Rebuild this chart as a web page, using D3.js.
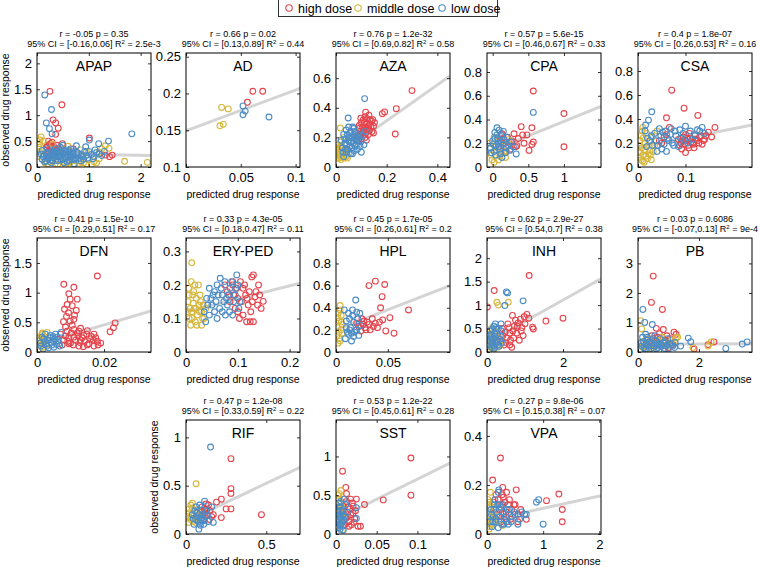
<!DOCTYPE html>
<html><head><meta charset="utf-8">
<script src="https://cdn.jsdelivr.net/npm/d3@7"></script>
<style>body{margin:0;background:#fff}text{font-family:"Liberation Sans",Arial,Helvetica,sans-serif;fill:#000}</style>
</head><body><svg id="c" width="759" height="567"></svg>
<script>
const drugs = ["APAP","AD","AZA","CPA","CSA","DFN","ERY-PED","HPL","INH","PB","RIF","SST","VPA"];
const seriesNames = ["high dose","middle dose","low dose"];
const statLine1 = ["r = -0.05 p = 0.35","r = 0.66 p = 0.02","r = 0.76 p = 1.2e-32","r = 0.57 p = 5.6e-15","r = 0.4 p = 1.8e-07","r = 0.41 p = 1.5e-10","r = 0.33 p = 4.3e-05","r = 0.45 p = 1.7e-05","r = 0.62 p = 2.9e-27","r = 0.03 p = 0.6086","r = 0.47 p = 1.2e-08","r = 0.53 p = 1.2e-22","r = 0.27 p = 9.8e-06"];
const statCI = ["[-0.16,0.06]","[0.13,0.89]","[0.69,0.82]","[0.46,0.67]","[0.26,0.53]","[0.29,0.51]","[0.18,0.47]","[0.26,0.61]","[0.54,0.7]","[-0.07,0.13]","[0.33,0.59]","[0.45,0.61]","[0.15,0.38]"];
const statR2 = ["2.5e-3","0.44","0.58","0.33","0.16","0.17","0.11","0.2","0.38","9e-4","0.22","0.28","0.07"];
const xDomains = [[0,2.2],[0,0.104],[0,0.45],[-0.08,1.52],[0,0.24],[0,0.034],[0,0.22],[0,0.11],[0,3.0],[0,3.74],[0,0.71],[0,0.14],[0,2.03]];
const yDomains = [[0,2.2],[0.1,0.255],[0,0.77],[0,0.96],[0,0.95],[0,1.92],[0,0.34],[0,1.03],[0,2.43],[0,3.86],[0,1.18],[0,1.47],[0,0.465]];
const xTicks = [[0,1,2],[0,0.05,0.1],[0,0.2,0.4],[0,0.5,1],[0,0.1],[0,0.02],[0,0.1,0.2],[0,0.05],[0,2],[0,2],[0,0.5],[0,0.05,0.1],[0,1,2]];
const yTicks = [[0,0.5,1,1.5,2],[0.1,0.15,0.2,0.25],[0,0.2,0.4,0.6],[0,0.2,0.4,0.6,0.8],[0,0.2,0.4,0.6,0.8],[0,0.5,1,1.5],[0,0.1,0.2,0.3],[0,0.2,0.4,0.6,0.8],[0,0.5,1,1.5,2],[0,1,2,3],[0,0.5,1],[0,0.5,1],[0,0.2,0.4]];
// regression line values at the left and right ends of the x-domain
const fitLines = [[0.26,0.22],[0.149,0.207],[0.07,0.615],[0.12,0.51],[0.16,0.35],[0.12,0.69],[0.12,0.205],[0.2,0.6],[0.2,1.56],[0.26,0.28],[0.13,0.69],[0.19,0.915],[0.055,0.156]];

const APAP_high = [[0.25,1.46],[0.48,1.2],[0.31,0.91],[0.36,0.85],[0.41,0.75],[0.36,0.63],[1.01,0.56],[0.49,0.45],[1.45,0.23],[1.32,0.23],[0.2,0.42],[0.24,0.36],[0.28,0.33],[0.32,0.4],[0.22,0.3],[0.3,0.26],[0.35,0.3],[0.26,0.45],[0.4,0.35],[0.18,0.38],[0.45,0.28],[0.6,0.3],[0.7,0.35],[1.4,0.2],[0.22,0.5],[0.27,0.4],[0.33,0.35],[0.38,0.42],[0.42,0.3],[0.23,0.27],[0.29,0.48],[0.34,0.25],[0.5,0.35],[0.55,0.28]];
const APAP_mid = [[1.39,0.36],[1.32,0.41],[1.69,0.11],[2.13,0.09],[0.08,0.58],[0.05,0.45],[0.81,0.07],[0.05,0.3],[0.1,0.15],[0.15,0.08],[0.25,0.1],[0.35,0.06],[0.45,0.12],[0.55,0.05],[0.65,0.1],[0.75,0.12],[0.9,0.08],[1.0,0.14],[1.1,0.1],[1.2,0.16],[0.4,0.22],[0.6,0.4],[0.95,0.3],[1.25,0.35],[0.3,0.44],[0.12,0.5],[0.02,0.2],[0.7,0.18],[1.05,0.05],[0.2,0.06],[0.3,0.13],[0.4,0.05],[0.5,0.09],[0.6,0.07],[0.7,0.05],[0.85,0.1],[0.95,0.06],[1.15,0.08],[0.04,0.38],[0.06,0.52],[0.03,0.25],[0.5,0.34],[0.85,0.33],[1.2,0.28]];
const APAP_low = [[0.15,1.39],[0.28,1.11],[0.18,0.85],[0.24,0.74],[0.29,0.64],[1.83,0.64],[1.01,0.52],[1.19,0.45],[1.38,0.5],[0.76,0.41],[0.94,0.39],[0.5,0.42],[0.12,0.2],[0.18,0.28],[0.22,0.15],[0.25,0.22],[0.3,0.3],[0.33,0.18],[0.38,0.25],[0.4,0.12],[0.44,0.2],[0.48,0.3],[0.5,0.16],[0.55,0.24],[0.58,0.1],[0.6,0.2],[0.64,0.28],[0.68,0.14],[0.7,0.22],[0.75,0.18],[0.8,0.26],[0.85,0.12],[0.88,0.2],[0.92,0.3],[0.98,0.17],[1.05,0.24],[1.1,0.2],[1.15,0.28],[0.2,0.36],[0.35,0.35],[0.45,0.38],[0.65,0.35],[0.52,0.08],[0.28,0.08],[0.15,0.1],[0.72,0.06],[0.62,0.32],[0.42,0.27],[0.26,0.25],[0.36,0.21],[0.54,0.19],[0.78,0.22],[1.25,0.22],[1.3,0.3],[0.08,0.25],[0.1,0.32],[0.1,0.15],[0.14,0.22],[0.17,0.12],[0.2,0.25],[0.23,0.18],[0.27,0.14],[0.31,0.22],[0.34,0.28],[0.37,0.15],[0.41,0.2],[0.43,0.32],[0.47,0.14],[0.51,0.25],[0.53,0.3],[0.57,0.17],[0.61,0.13],[0.63,0.23],[0.66,0.19],[0.69,0.29],[0.73,0.15],[0.77,0.28],[0.82,0.17],[0.86,0.24],[0.9,0.15],[0.95,0.22],[1.0,0.3],[1.08,0.16],[1.12,0.33],[1.2,0.25],[0.3,0.12],[0.46,0.23],[0.56,0.33],[0.67,0.25],[0.2,0.2],[0.39,0.31]];

const AD_high = [[0.056,0.188],[0.061,0.203],[0.07,0.203]];
const AD_mid = [[0.0325,0.181],[0.0385,0.179],[0.031,0.156],[0.034,0.158]];
const AD_low = [[0.052,0.183],[0.052,0.171],[0.054,0.176],[0.0757,0.168]];

const AZA_high = [[0.3,0.516],[0.238,0.394],[0.234,0.223],[0.192,0.372],[0.183,0.36],[0.117,0.37],[0.148,0.275],[0.148,0.23],[0.124,0.325],[0.135,0.32],[0.1,0.3],[0.105,0.27],[0.11,0.25],[0.12,0.29],[0.13,0.28],[0.095,0.22],[0.1,0.24],[0.115,0.2],[0.14,0.31],[0.125,0.26],[0.09,0.26],[0.108,0.32],[0.118,0.23],[0.132,0.25],[0.12,0.18],[0.1,0.19],[0.085,0.21],[0.145,0.32],[0.092,0.28],[0.098,0.33],[0.105,0.23],[0.112,0.3],[0.118,0.27],[0.128,0.22],[0.138,0.27],[0.142,0.24],[0.088,0.18],[0.13,0.35],[0.152,0.3],[0.115,0.34]];
const AZA_mid = [[0.017,0.264],[0.005,0.12],[0.01,0.08],[0.015,0.1],[0.02,0.14],[0.008,0.15],[0.025,0.09],[0.03,0.11],[0.012,0.06],[0.035,0.08],[0.004,0.09],[0.02,0.05],[0.028,0.13],[0.04,0.07],[0.018,0.17],[0.045,0.06],[0.01,0.11],[0.03,0.2],[0.006,0.06],[0.014,0.13],[0.022,0.08],[0.032,0.06],[0.008,0.1],[0.016,0.07],[0.026,0.11],[0.002,0.13],[0.038,0.1],[0.05,0.09]];
const AZA_low = [[0.113,0.462],[0.048,0.331],[0.03,0.22],[0.04,0.25],[0.05,0.2],[0.06,0.17],[0.07,0.22],[0.055,0.14],[0.045,0.12],[0.065,0.09],[0.035,0.16],[0.025,0.13],[0.075,0.19],[0.08,0.15],[0.09,0.18],[0.06,0.24],[0.05,0.27],[0.085,0.12],[0.04,0.1],[0.07,0.26],[0.095,0.14],[0.11,0.15],[0.115,0.24],[0.02,0.18],[0.1,0.1],[0.065,0.2],[0.03,0.07],[0.055,0.23],[0.075,0.24],[0.035,0.19],[0.045,0.22],[0.052,0.17],[0.058,0.2],[0.062,0.13],[0.068,0.16],[0.072,0.11],[0.078,0.21],[0.082,0.18],[0.088,0.22],[0.092,0.2],[0.098,0.17],[0.042,0.15],[0.028,0.1],[0.038,0.12],[0.066,0.27],[0.058,0.09],[0.105,0.21],[0.048,0.18],[0.075,0.14]];

const CPA_high = [[0.57,0.64],[1.0,0.45],[1.0,0.17],[0.55,0.33],[0.4,0.34],[0.48,0.27],[0.42,0.27],[0.57,0.21],[0.55,0.19],[0.51,0.14],[0.3,0.28],[0.32,0.17],[0.34,0.18],[0.23,0.21],[0.15,0.24],[0.17,0.2],[0.08,0.17],[0.21,0.25],[0.11,0.22],[0.25,0.15],[0.13,0.28],[0.27,0.22],[0.19,0.13],[0.36,0.24],[0.44,0.2]];
const CPA_mid = [[0.02,0.04],[-0.02,0.1],[0.06,0.14],[0.1,0.09],[0.14,0.22],[-0.04,0.2],[0.22,0.23],[0.08,0.06],[0.16,0.13],[0.02,0.25],[0.04,0.17],[0.12,0.12],[-0.01,0.06],[0.18,0.08]];
const CPA_low = [[0.57,0.46],[0.06,0.33],[0.09,0.31],[0.03,0.29],[0.12,0.27],[0.2,0.25],[0.33,0.11],[0.0,0.22],[0.05,0.18],[0.1,0.15],[0.14,0.19],[0.18,0.12],[0.02,0.13],[0.07,0.24],[0.15,0.3],[0.22,0.18],[-0.03,0.16],[0.12,0.21],[0.26,0.21],[0.04,0.1],[0.06,0.27],[0.08,0.2],[0.11,0.11],[0.16,0.23],[0.01,0.19],[0.24,0.14],[0.13,0.08],[0.09,0.17],[0.19,0.16],[0.03,0.24],[0.29,0.17],[-0.02,0.12]];

const CSA_high = [[0.071,0.64],[0.097,0.49],[0.126,0.43],[0.06,0.41],[0.162,0.33],[0.155,0.25],[0.148,0.29],[0.06,0.27],[0.066,0.33],[0.09,0.2],[0.095,0.25],[0.1,0.22],[0.105,0.18],[0.11,0.24],[0.115,0.2],[0.12,0.27],[0.125,0.22],[0.13,0.25],[0.135,0.19],[0.14,0.23],[0.092,0.15],[0.1,0.12],[0.118,0.16],[0.045,0.22],[0.05,0.2],[0.055,0.25],[0.108,0.28],[0.085,0.23],[0.088,0.18],[0.093,0.22],[0.098,0.19],[0.103,0.24],[0.112,0.21],[0.117,0.19],[0.122,0.23],[0.128,0.2],[0.133,0.26],[0.138,0.22],[0.143,0.26],[0.1,0.27],[0.107,0.16]];
const CSA_mid = [[0.01,0.33],[0.002,0.08],[0.005,0.12],[0.008,0.16],[0.012,0.1],[0.015,0.2],[0.02,0.07],[0.025,0.14],[0.03,0.25],[0.004,0.22],[0.018,0.28],[0.035,0.18],[0.01,0.05],[0.022,0.11],[0.006,0.26],[0.04,0.3],[0.028,0.06],[0.003,0.18],[0.007,0.06],[0.011,0.24],[0.014,0.14],[0.017,0.09],[0.019,0.17],[0.023,0.21],[0.026,0.1],[0.009,0.3],[0.013,0.04],[0.032,0.13],[0.001,0.13]];
const CSA_low = [[0.029,0.46],[0.022,0.39],[0.015,0.3],[0.025,0.22],[0.035,0.28],[0.045,0.32],[0.05,0.15],[0.058,0.3],[0.065,0.22],[0.07,0.32],[0.075,0.18],[0.08,0.26],[0.088,0.31],[0.095,0.28],[0.1,0.34],[0.11,0.3],[0.12,0.26],[0.13,0.3],[0.14,0.28],[0.04,0.13],[0.06,0.13],[0.085,0.17],[0.03,0.18],[0.02,0.24],[0.105,0.2],[0.068,0.27],[0.048,0.26],[0.018,0.17],[0.028,0.26],[0.038,0.22],[0.042,0.18],[0.055,0.19],[0.062,0.24],[0.072,0.2],[0.078,0.3],[0.09,0.24],[0.098,0.22],[0.115,0.23],[0.125,0.31],[0.135,0.33],[0.016,0.35],[0.052,0.29]];

const DFN_high = [[0.018,1.28],[0.008,1.14],[0.011,1.09],[0.0095,0.98],[0.0099,0.89],[0.012,0.89],[0.009,0.8],[0.0105,0.78],[0.0082,0.72],[0.0094,0.66],[0.0117,0.7],[0.0079,0.51],[0.0233,0.49],[0.0218,0.34],[0.0228,0.41],[0.017,0.1],[0.007,0.3],[0.008,0.2],[0.009,0.35],[0.01,0.15],[0.011,0.25],[0.012,0.32],[0.013,0.2],[0.014,0.28],[0.015,0.12],[0.016,0.22],[0.017,0.3],[0.018,0.18],[0.019,0.15],[0.0085,0.42],[0.0105,0.45],[0.013,0.4],[0.015,0.36],[0.0125,0.1],[0.0095,0.24],[0.011,0.55],[0.0075,0.12],[0.0085,0.27],[0.0092,0.18],[0.0102,0.32],[0.0108,0.12],[0.0115,0.2],[0.0122,0.27],[0.0128,0.16],[0.0135,0.24],[0.0142,0.18],[0.0148,0.3],[0.0155,0.14],[0.0162,0.26],[0.0168,0.2],[0.0175,0.24],[0.0182,0.12],[0.0125,0.35],[0.0095,0.14],[0.011,0.38],[0.0138,0.09],[0.0088,0.6],[0.0112,0.62],[0.0099,0.52]];
const DFN_mid = [[0.0005,0.1],[0.001,0.2],[0.0015,0.3],[0.002,0.15],[0.0025,0.25],[0.003,0.33],[0.0008,0.05],[0.0018,0.08],[0.0028,0.12],[0.0012,0.27],[0.0003,0.18],[0.0007,0.24],[0.0014,0.13],[0.0022,0.22],[0.0004,0.03],[0.0016,0.32]];
const DFN_low = [[0.001,0.15],[0.002,0.22],[0.003,0.1],[0.004,0.28],[0.005,0.18],[0.006,0.25],[0.0072,0.33],[0.0035,0.07],[0.0045,0.12],[0.0055,0.3],[0.0065,0.14],[0.0025,0.3],[0.0015,0.25],[0.005,0.08],[0.0012,0.1],[0.0022,0.17],[0.0032,0.2],[0.0042,0.16],[0.0052,0.22],[0.0062,0.19],[0.0068,0.1],[0.0038,0.24],[0.0048,0.26],[0.0058,0.13],[0.0028,0.14],[0.0018,0.05]];

const ERY_high = [[0.127,0.224],[0.133,0.164],[0.149,0.151],[0.13,0.09],[0.117,0.09],[0.124,0.09],[0.13,0.23],[0.08,0.18],[0.09,0.2],[0.1,0.16],[0.11,0.19],[0.12,0.14],[0.095,0.13],[0.105,0.21],[0.115,0.17],[0.125,0.12],[0.14,0.2],[0.085,0.15],[0.1,0.12],[0.135,0.18],[0.11,0.11],[0.075,0.2],[0.145,0.13],[0.083,0.17],[0.092,0.17],[0.098,0.19],[0.107,0.15],[0.113,0.2],[0.118,0.16],[0.122,0.18],[0.128,0.15],[0.138,0.14],[0.142,0.17],[0.103,0.1],[0.09,0.21]];
const ERY_mid = [[0.011,0.266],[0.01,0.21],[0.005,0.19],[0.015,0.18],[0.02,0.16],[0.025,0.14],[0.03,0.12],[0.008,0.13],[0.012,0.1],[0.018,0.09],[0.022,0.11],[0.028,0.15],[0.035,0.1],[0.004,0.15],[0.016,0.13],[0.03,0.08],[0.038,0.13],[0.006,0.1],[0.024,0.2],[0.014,0.145],[0.006,0.17],[0.013,0.17],[0.019,0.13],[0.026,0.12],[0.032,0.1],[0.009,0.08],[0.021,0.08],[0.003,0.12],[0.017,0.2],[0.027,0.17],[0.033,0.14],[0.011,0.12]];
const ERY_low = [[0.098,0.23],[0.035,0.12],[0.04,0.16],[0.045,0.19],[0.05,0.14],[0.055,0.18],[0.06,0.2],[0.065,0.13],[0.07,0.17],[0.075,0.21],[0.08,0.14],[0.085,0.19],[0.09,0.11],[0.095,0.17],[0.1,0.2],[0.104,0.15],[0.045,0.11],[0.06,0.1],[0.07,0.12],[0.078,0.16],[0.088,0.21],[0.038,0.09],[0.052,0.17],[0.042,0.14],[0.048,0.16],[0.058,0.15],[0.062,0.17],[0.068,0.19],[0.073,0.15],[0.082,0.17],[0.092,0.15],[0.096,0.19],[0.055,0.12],[0.066,0.22],[0.084,0.12],[0.102,0.13],[0.076,0.11]];

const HPL_high = [[0.038,0.64],[0.0318,0.6],[0.047,0.61],[0.0445,0.5],[0.07,0.38],[0.043,0.4],[0.045,0.29],[0.052,0.31],[0.048,0.19],[0.056,0.17],[0.02,0.26],[0.025,0.3],[0.028,0.22],[0.03,0.27],[0.033,0.2],[0.035,0.3],[0.038,0.26],[0.024,0.19],[0.04,0.22],[0.027,0.28],[0.022,0.23],[0.026,0.25],[0.029,0.2],[0.032,0.25],[0.036,0.23],[0.042,0.27]];
const HPL_mid = [[0.004,0.42],[0.002,0.35],[0.003,0.28],[0.005,0.2],[0.001,0.15],[0.004,0.1],[0.006,0.25],[0.002,0.08],[0.005,0.33],[0.003,0.18],[0.001,0.22],[0.003,0.12],[0.005,0.27],[0.002,0.31],[0.006,0.17],[0.004,0.38]];
const HPL_low = [[0.019,0.47],[0.008,0.38],[0.012,0.35],[0.016,0.33],[0.02,0.36],[0.01,0.28],[0.014,0.22],[0.018,0.18],[0.022,0.15],[0.009,0.12],[0.015,0.1],[0.02,0.2],[0.012,0.16],[0.017,0.27],[0.024,0.24],[0.011,0.18],[0.013,0.2],[0.015,0.17],[0.017,0.14],[0.019,0.2],[0.021,0.3],[0.013,0.3],[0.016,0.38],[0.023,0.35],[0.01,0.22]];

const INH_high = [[1.11,1.63],[1.55,0.66],[2.0,0.72],[1.2,0.53],[1.22,0.49],[0.67,0.78],[0.19,1.31],[0.01,0.96],[0.75,0.68],[0.3,0.3],[0.4,0.5],[0.5,0.2],[0.6,0.4],[0.7,0.3],[0.8,0.55],[0.9,0.45],[1.0,0.6],[0.85,0.25],[0.55,0.6],[0.45,0.15],[0.65,0.1],[0.95,0.35],[0.35,0.22],[0.42,0.35],[0.48,0.42],[0.52,0.3],[0.58,0.52],[0.62,0.25],[0.68,0.45],[0.72,0.55],[0.78,0.4],[0.82,0.62],[0.88,0.7],[0.92,0.52],[0.98,0.75],[1.05,0.8],[1.1,0.72],[0.6,0.15]];
const INH_mid = [[0.56,1.06],[0.26,1.06],[0.3,1.0],[0.07,0.05],[0.1,0.2],[0.15,0.35],[0.2,0.1],[0.25,0.45],[0.35,0.15],[0.12,0.5],[0.3,0.3],[0.05,0.3],[0.04,0.12],[0.08,0.1],[0.13,0.25],[0.17,0.05],[0.22,0.22],[0.27,0.1],[0.02,0.38],[0.18,0.45]];
const INH_low = [[0.54,1.26],[0.95,1.09],[0.47,0.99],[0.51,1.28],[0.05,0.15],[0.1,0.3],[0.15,0.2],[0.2,0.4],[0.25,0.25],[0.3,0.5],[0.35,0.35],[0.4,0.2],[0.12,0.1],[0.18,0.55],[0.28,0.15],[0.22,0.6],[0.38,0.45],[0.08,0.45],[0.06,0.05],[0.08,0.22],[0.11,0.38],[0.13,0.15],[0.16,0.28],[0.19,0.08],[0.21,0.33],[0.24,0.18],[0.27,0.38],[0.29,0.22],[0.32,0.12],[0.34,0.27],[0.37,0.6],[0.02,0.25],[0.14,0.48],[0.23,0.52],[0.06,0.35],[0.18,0.12]];

const PB_high = [[0.5,2.57],[0.44,1.68],[0.8,1.44],[0.6,0.8],[0.83,0.76],[1.18,0.67],[1.25,0.6],[2.49,0.34],[1.84,0.1],[2.3,0.25],[0.3,0.4],[0.45,0.55],[0.55,0.3],[0.65,0.5],[0.75,0.2],[0.9,0.4],[1.0,0.15],[0.4,0.2],[0.7,0.62],[0.35,0.3],[0.5,0.45],[0.62,0.35],[0.72,0.25],[0.85,0.35],[0.95,0.55],[1.05,0.45],[1.15,0.25],[0.25,0.25]];
const PB_mid = [[0.09,1.06],[0.12,0.78],[1.8,0.15],[2.4,0.34],[2.3,0.2],[1.3,0.5],[0.2,0.3],[0.35,0.45],[0.5,0.15],[0.65,0.35],[0.8,0.5],[0.95,0.25],[0.3,0.1],[1.1,0.4],[0.15,0.15],[0.25,0.4],[0.42,0.25],[0.58,0.2],[0.72,0.4],[0.88,0.3],[1.0,0.2],[0.12,0.35],[1.2,0.35],[1.25,0.48]];
const PB_low = [[0.16,1.44],[0.22,1.0],[0.47,0.93],[1.65,0.47],[1.73,0.35],[2.88,0.12],[3.42,0.27],[3.58,0.34],[1.4,0.2],[0.1,0.3],[0.2,0.15],[0.3,0.4],[0.4,0.25],[0.5,0.45],[0.6,0.1],[0.7,0.3],[0.8,0.2],[0.9,0.35],[1.0,0.1],[1.1,0.25],[1.2,0.15],[0.25,0.6],[0.55,0.55],[0.35,0.05],[0.15,0.5],[0.12,0.2],[0.18,0.35],[0.24,0.1],[0.28,0.28],[0.33,0.2],[0.38,0.35],[0.43,0.12],[0.46,0.3],[0.52,0.2],[0.58,0.38],[0.62,0.25],[0.66,0.15],[0.72,0.45],[0.76,0.25],[0.84,0.3],[0.88,0.12],[0.94,0.22],[1.04,0.3],[1.14,0.2],[1.22,0.32],[0.08,0.08],[0.3,0.5],[0.68,0.05],[0.98,0.45]];

const RIF_high = [[0.28,0.78],[0.28,0.47],[0.28,0.42],[0.22,0.36],[0.19,0.33],[0.25,0.26],[0.28,0.26],[0.22,0.17],[0.47,0.2],[0.08,0.2],[0.1,0.28],[0.12,0.22],[0.14,0.3],[0.16,0.18],[0.11,0.15],[0.13,0.26],[0.09,0.24],[0.105,0.19],[0.115,0.25],[0.125,0.31],[0.135,0.2],[0.15,0.24],[0.17,0.2],[0.145,0.15]];
const RIF_mid = [[0.063,0.52],[0.01,0.18],[0.02,0.22],[0.03,0.15],[0.04,0.27],[0.05,0.2],[0.06,0.12],[0.07,0.25],[0.03,0.3],[0.08,0.16],[0.015,0.12],[0.025,0.17],[0.035,0.2],[0.045,0.13],[0.055,0.17],[0.065,0.22],[0.02,0.26],[0.04,0.32],[0.075,0.19]];
const RIF_low = [[0.153,0.9],[0.116,0.34],[0.16,0.28],[0.11,0.1],[0.08,0.05],[0.04,0.2],[0.06,0.15],[0.07,0.22],[0.09,0.12],[0.1,0.25],[0.12,0.18],[0.14,0.13],[0.05,0.1],[0.085,0.3],[0.17,0.12],[0.045,0.16],[0.055,0.24],[0.065,0.18],[0.075,0.13],[0.082,0.2],[0.095,0.16],[0.105,0.2],[0.115,0.14],[0.125,0.24],[0.135,0.19],[0.062,0.28],[0.09,0.09],[0.1,0.14]];

const SST_high = [[0.092,0.98],[0.092,0.5],[0.058,0.44],[0.008,0.81],[0.012,0.6],[0.035,0.38],[0.03,0.1],[0.005,0.3],[0.01,0.45],[0.012,0.2],[0.015,0.35],[0.018,0.25],[0.02,0.4],[0.022,0.15],[0.024,0.3],[0.016,0.1],[0.008,0.15],[0.025,0.45],[0.013,0.52],[0.006,0.2],[0.009,0.28],[0.011,0.12],[0.014,0.22],[0.017,0.32],[0.019,0.12],[0.021,0.27],[0.023,0.2],[0.013,0.42],[0.018,0.45],[0.021,0.36],[0.027,0.1],[0.01,0.35],[0.016,0.16]];
const SST_mid = [[0.004,0.52],[0.006,0.56],[0.002,0.1],[0.003,0.2],[0.004,0.3],[0.005,0.4],[0.006,0.15],[0.007,0.25],[0.008,0.05],[0.002,0.35],[0.009,0.45],[0.001,0.25],[0.003,0.45],[0.005,0.1],[0.007,0.35],[0.002,0.5],[0.008,0.2]];
const SST_low = [[0.01,0.45],[0.025,0.34],[0.025,0.2],[0.014,0.28],[0.002,0.08],[0.003,0.15],[0.004,0.25],[0.005,0.35],[0.006,0.12],[0.007,0.2],[0.008,0.3],[0.009,0.05],[0.003,0.4],[0.006,0.42],[0.01,0.18],[0.001,0.1],[0.002,0.2],[0.003,0.3],[0.004,0.12],[0.005,0.22],[0.006,0.3],[0.007,0.15],[0.008,0.1],[0.009,0.25],[0.004,0.35],[0.002,0.28],[0.011,0.22],[0.005,0.06],[0.003,0.18],[0.012,0.38]];

const VPA_high = [[0.24,0.31],[0.1,0.22],[0.52,0.18],[0.35,0.17],[0.27,0.16],[1.28,0.163],[1.06,0.136],[1.34,0.1],[1.34,0.05],[0.7,0.06],[0.55,0.05],[0.48,0.12],[0.15,0.1],[0.2,0.14],[0.3,0.08],[0.38,0.12],[0.42,0.06],[0.25,0.05],[0.6,0.1],[0.18,0.07],[0.32,0.13],[0.12,0.13],[0.16,0.16],[0.22,0.1],[0.26,0.12],[0.29,0.15],[0.34,0.09],[0.4,0.14],[0.44,0.1],[0.5,0.12],[0.55,0.08],[0.36,0.05],[0.28,0.19]];
const VPA_mid = [[0.06,0.17],[0.28,0.035],[0.02,0.05],[0.04,0.08],[0.06,0.11],[0.08,0.06],[0.1,0.09],[0.12,0.04],[0.03,0.12],[0.14,0.07],[0.05,0.03],[0.01,0.09],[0.03,0.07],[0.05,0.13],[0.07,0.04],[0.09,0.12],[0.11,0.08],[0.13,0.05],[0.02,0.14],[0.04,0.02]];
const VPA_low = [[0.21,0.18],[0.88,0.13],[0.92,0.14],[0.67,0.08],[1.0,0.04],[0.43,0.05],[0.2,0.025],[0.08,0.08],[0.12,0.1],[0.16,0.06],[0.22,0.12],[0.28,0.09],[0.34,0.07],[0.4,0.1],[0.5,0.08],[0.58,0.06],[0.3,0.04],[0.1,0.05],[0.25,0.11],[0.05,0.05],[0.07,0.1],[0.09,0.03],[0.11,0.07],[0.13,0.12],[0.15,0.05],[0.17,0.09],[0.19,0.12],[0.23,0.07],[0.26,0.04],[0.29,0.12],[0.31,0.06],[0.36,0.1],[0.38,0.04],[0.45,0.07],[0.48,0.09],[0.55,0.04],[0.62,0.09],[0.7,0.08],[0.14,0.14],[0.2,0.17]];

const highData = [APAP_high,AD_high,AZA_high,CPA_high,CSA_high,DFN_high,ERY_high,HPL_high,INH_high,PB_high,RIF_high,SST_high,VPA_high];
const midData = [APAP_mid,AD_mid,AZA_mid,CPA_mid,CSA_mid,DFN_mid,ERY_mid,HPL_mid,INH_mid,PB_mid,RIF_mid,SST_mid,VPA_mid];
const lowData = [APAP_low,AD_low,AZA_low,CPA_low,CSA_low,DFN_low,ERY_low,HPL_low,INH_low,PB_low,RIF_low,SST_low,VPA_low];

const colors = ["#e5444c","#d7b73a","#4b8cc6"];
const svg = d3.select("#c");
const colLeft = [37,186,336,487,638];
const rowTop = [53,238,420];
const S = 114;
const grid = [[0,0],[1,0],[2,0],[3,0],[4,0],[0,1],[1,1],[2,1],[3,1],[4,1],[1,2],[2,2],[3,2]];
const fmt = v => String(+v.toFixed(4));

drugs.forEach((name,i)=>{
  const [c,r] = grid[i];
  const x0 = colLeft[c], y0 = rowTop[r];
  const g = svg.append("g").attr("transform",`translate(${x0},${y0})`);
  const xs = d3.scaleLinear().domain(xDomains[i]).range([0,S]);
  const ys = d3.scaleLinear().domain(yDomains[i]).range([S,0]);
  const clip = "clip"+i;
  g.append("clipPath").attr("id",clip).append("rect").attr("width",S).attr("height",S);
  const inner = g.append("g").attr("clip-path",`url(#${clip})`);
  inner.append("line").attr("x1",xs(xDomains[i][0])).attr("x2",xs(xDomains[i][1]))
    .attr("y1",ys(fitLines[i][0])).attr("y2",ys(fitLines[i][1]))
    .attr("stroke","#d4d4d4").attr("stroke-width",3);
  [highData[i],midData[i],lowData[i]].forEach((arr,k)=>{
    inner.selectAll(null).data(arr).enter().append("circle")
      .attr("cx",d=>xs(d[0])).attr("cy",d=>ys(d[1])).attr("r",2.9)
      .attr("fill","none").attr("stroke",colors[k]).attr("stroke-width",1.1);
  });
  const ax = g.append("g").attr("transform",`translate(0,${S})`)
    .call(d3.axisBottom(xs).tickValues(xTicks[i]).tickSize(-3).tickPadding(6).tickFormat(fmt));
  const ay = g.append("g")
    .call(d3.axisLeft(ys).tickValues(yTicks[i]).tickSize(-3).tickPadding(5).tickFormat(fmt));
  g.append("g").call(d3.axisTop(xs).tickValues(xTicks[i]).tickSize(-3).tickFormat(""));
  g.append("g").attr("transform",`translate(${S},0)`).call(d3.axisRight(ys).tickValues(yTicks[i]).tickSize(-3).tickFormat(""));
  g.selectAll(".domain").remove();
  g.selectAll(".tick line").attr("stroke","#000").attr("stroke-width",0.8);
  ax.selectAll("text").style("font-size","13px");
  ay.selectAll("text").style("font-size","13px");
  g.append("rect").attr("width",S).attr("height",S).attr("fill","none").attr("stroke","#000").attr("stroke-width",1);
  g.append("text").attr("x",S/2).attr("y",18).attr("text-anchor","middle").style("font-size","14px").text(name);
  g.append("text").attr("x",S/2).attr("y",-16).attr("text-anchor","middle").style("font-size","9px").text(statLine1[i]);
  const t2 = g.append("text").attr("x",S/2).attr("y",-6).attr("text-anchor","middle").style("font-size","9px");
  t2.append("tspan").text("95% CI = "+statCI[i]+" R");
  t2.append("tspan").attr("dy",-3).style("font-size","6px").text("2");
  t2.append("tspan").attr("dy",3).text(" = "+statR2[i]);
  g.append("text").attr("x",S/2).attr("y",S+31).attr("text-anchor","middle").style("font-size","10.5px").text("predicted drug response");
  if (c===0 || (r===2 && c===1)) {
    g.append("text").attr("transform",`translate(-28,${S/2}) rotate(-90)`).attr("text-anchor","middle")
      .style("font-size","10.5px").text("observed drug response");
  }
});

const lg = svg.append("g").attr("transform","translate(278,0)");
lg.append("rect").attr("x",0.5).attr("y",-0.5).attr("width",219).attr("height",17).attr("fill","#fff").attr("stroke","#000").attr("stroke-width",0.8);
const legX = [11,80,164];
seriesNames.forEach((s,k)=>{
  lg.append("circle").attr("cx",legX[k]).attr("cy",8).attr("r",3.2).attr("fill","none").attr("stroke",colors[k]).attr("stroke-width",1.1);
  lg.append("text").attr("x",legX[k]+9).attr("y",12.5).style("font-size","12.5px").text(s);
});
</script></body></html>
